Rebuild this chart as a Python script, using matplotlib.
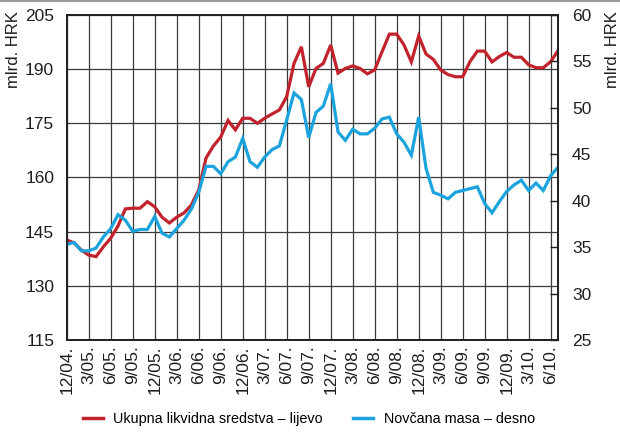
import matplotlib
matplotlib.use('Agg')
import matplotlib.pyplot as plt
from matplotlib.lines import Line2D
import numpy as np

plt.rcParams['font.family'] = ['Liberation Sans Narrow', 'Liberation Sans', 'DejaVu Sans']

# monthly data, 12/2004 - 7/2010
ukupna = [142.7, 141.9, 139.9, 138.5, 138.1, 140.8, 143.2, 146.6, 151.3, 151.5,
          151.5, 153.3, 151.9, 149.0, 147.4, 149.0, 150.2, 152.4, 156.5, 165.4,
          168.7, 171.2, 175.8, 173.2, 176.4, 176.4, 175.0, 176.4, 177.6, 178.7,
          182.4, 191.6, 196.2, 185.1, 190.2, 191.6, 196.7, 188.9, 190.2, 190.9,
          190.2, 188.7, 189.8, 194.8, 199.7, 199.7, 196.7, 192.0, 199.2, 194.2,
          192.7, 189.8, 188.5, 187.9, 187.9, 192.1, 195.0, 195.0, 192.0, 193.5,
          194.6, 193.3, 193.3, 191.2, 190.4, 190.4, 192.1, 195.1]
novcana = [35.3, 35.5, 34.6, 34.6, 34.9, 36.1, 37.0, 38.5, 37.9, 36.7,
           36.9, 36.9, 38.3, 36.5, 36.1, 37.0, 37.9, 39.1, 40.9, 43.7,
           43.7, 42.9, 44.2, 44.7, 46.7, 44.2, 43.6, 44.7, 45.5, 45.9,
           48.7, 51.6, 50.9, 46.8, 49.5, 50.2, 52.6, 47.4, 46.5, 47.7,
           47.2, 47.2, 47.8, 48.8, 49.0, 47.2, 46.3, 44.9, 49.0, 43.5,
           40.9, 40.6, 40.2, 40.9, 41.1, 41.3, 41.5, 39.7, 38.7, 39.9,
           41.0, 41.7, 42.2, 41.1, 41.9, 41.1, 42.7, 43.6]
xlabels = ['12/04.', '3/05.', '6/05.', '9/05.', '12/05.', '3/06.', '6/06.',
           '9/06.', '12/06.', '3/07.', '6/07.', '9/07.', '12/07.', '3/08.',
           '6/08.', '9/08.', '12/08.', '3/09.', '6/09.', '9/09.', '12/09.',
           '3/10.', '6/10.']
left_ticks = [115, 130, 145, 160, 175, 190, 205]
right_ticks = [25, 30, 35, 40, 45, 50, 55, 60]

red = '#C1222B'
blue = '#1AA3DC'
txt = '#1e1e1e'
x = np.arange(len(ukupna))

fig = plt.figure(figsize=(6.2, 4.36), dpi=100)
ax = fig.add_axes([0.1076, 0.2202, 0.7924, 0.7454])
ax2 = ax.twinx()

ax.plot(x, ukupna, color=red, lw=2.3, solid_joinstyle='miter')
ax2.plot(x, novcana, color=blue, lw=2.3, solid_joinstyle='miter')

ax.set_xlim(0, len(ukupna) - 1)
ax.set_ylim(115, 205)
ax2.set_ylim(25, 60)
ax.set_xticks(np.arange(0, 3 * len(xlabels), 3))
ax.set_xticklabels(xlabels, rotation=90, fontsize=12.5, color=txt)
ax.set_yticks(left_ticks)
ax.tick_params(axis='y', labelsize=12.5, length=0, pad=9, colors=txt)
ax.tick_params(axis='x', length=0, pad=4)
ax2.set_yticks(right_ticks)
ax2.tick_params(axis='y', direction='in', length=6, width=1, labelsize=12.5,
                pad=10, colors=txt)

ax.grid(True, color='#3a3a3a', lw=0.9)
for a in (ax, ax2):
    for s in a.spines.values():
        s.set_color('#222222')
        s.set_linewidth(1.3)

fig.text(0.010, 0.975, 'mlrd. HRK', rotation=90, ha='left', va='top',
         fontsize=12, color=txt)
fig.text(0.976, 0.975, 'mlrd. HRK', rotation=90, ha='left', va='top',
         fontsize=12, color=txt)

# top rule
fig.add_artist(Line2D([0, 1], [0.997, 0.997], transform=fig.transFigure,
                      color='#9a9a9a', lw=1.5))

handles = [Line2D([], [], color=red, lw=2.5), Line2D([], [], color=blue, lw=2.5)]
fig.legend(handles, ['Ukupna likvidna sredstva – lijevo', 'Novčana masa – desno'],
           loc='center', bbox_to_anchor=(0.498, 0.04), ncol=2, frameon=False,
           fontsize=10.4, handlelength=1.4, handletextpad=0.7, columnspacing=2.1)

fig.savefig('out.png', dpi=100)
